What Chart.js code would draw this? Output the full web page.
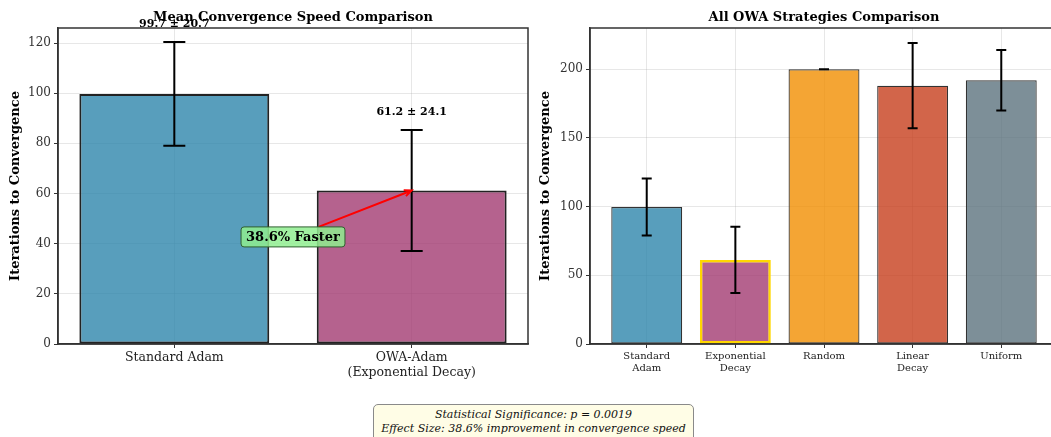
<!DOCTYPE html>
<html>
<head>
<meta charset="utf-8">
<script src="https://cdn.jsdelivr.net/npm/chart.js@4.4.1/dist/chart.umd.min.js"></script>
<style>
html, body { margin: 0; padding: 0; background: #fff; width: 1051px; height: 437px; overflow: hidden; position: relative; }
#left { position: absolute; left: 0; top: 0; }
#right { position: absolute; left: 530px; top: 0; }
#stats {
  position: absolute; left: 373px; top: 404px; width: 321px; height: 40px;
  background: #fffde6; border: 1px solid #8a8a8a; border-radius: 5px;
  font: italic 11px "DejaVu Serif", serif; line-height: 13.5px; text-align: center;
  color: #111; padding-top: 3px; box-sizing: border-box;
}
</style>
</head>
<body>
<canvas id="left" width="530" height="400"></canvas>
<canvas id="right" width="530" height="400"></canvas>
<div id="stats">Statistical Significance: p = 0.0019<br>Effect Size: 38.6% improvement in convergence speed</div>
<script>
// main comparison
const mainLabels = [['Standard Adam'], ['OWA-Adam', '(Exponential Decay)']];
const mainMeans = [99.7, 61.2];
const mainStds = [20.7, 24.1];
const mainColors = ['rgba(46,134,171,0.8)', 'rgba(162,59,114,0.8)'];
// all strategies
const stratLabels = [['Standard', 'Adam'], ['Exponential', 'Decay'], ['Random'], ['Linear', 'Decay'], ['Uniform']];
const stratMeans = [99.7, 61.2, 200, 188, 192];
const stratStds = [20.7, 24.1, 0, 31, 22];
const stratColors = ['rgba(46,134,171,0.8)', 'rgba(162,59,114,0.8)', 'rgba(241,143,1,0.8)', 'rgba(199,62,29,0.8)', 'rgba(93,115,126,0.8)'];
const stratEdges = ['#333', '#FFD700', '#333', '#333', '#333'];
const stratEdgeWidths = [1.2, 2.5, 1.2, 1.2, 1.2];
const improvement = 38.6;

const SERIF = '"DejaVu Serif", serif';
const GRID = 'rgba(160,160,160,0.25)';

//draws title centered on plot area, frame, error bars, value labels
const extrasPlugin = {
  id: 'extras',
  afterDraw(chart, args, opts) {
    const ctx = chart.ctx;
    const a = chart.chartArea;
    const x = chart.scales.x, y = chart.scales.y;
    ctx.save();
    //frame
    ctx.strokeStyle = '#333';
    ctx.lineWidth = 1.5;
    ctx.strokeRect(a.left, a.top, a.right - a.left, a.bottom - a.top);
    //error bars
    ctx.strokeStyle = '#000';
    ctx.lineWidth = 2;
    opts.means.forEach((m, i) => {
      const px = x.getPixelForValue(i);
      const top = y.getPixelForValue(m + opts.stds[i]);
      const bot = y.getPixelForValue(m - opts.stds[i]);
      ctx.beginPath();
      ctx.moveTo(px, top); ctx.lineTo(px, bot);
      ctx.moveTo(px - opts.cap, top); ctx.lineTo(px + opts.cap, top);
      ctx.moveTo(px - opts.cap, bot); ctx.lineTo(px + opts.cap, bot);
      ctx.stroke();
      if (opts.showValues) {
        ctx.fillStyle = '#000';
        ctx.font = 'bold 11px ' + SERIF;
        ctx.textAlign = 'center';
        ctx.textBaseline = 'bottom';
        ctx.fillText(m.toFixed(1) + ' \u00b1 ' + opts.stds[i].toFixed(1), px, y.getPixelForValue(m + opts.stds[i] + 5));
      }
    });
    //title
    ctx.fillStyle = '#000';
    ctx.font = 'bold 13px ' + SERIF;
    ctx.textAlign = 'center';
    ctx.textBaseline = 'middle';
    ctx.fillText(opts.title, (a.left + a.right) / 2, 18);
    ctx.restore();
  }
};

//arrow + green box
const annotationPlugin = {
  id: 'annot',
  afterDraw(chart, args, opts) {
    if (!opts.text) return;
    const ctx = chart.ctx;
    const x = chart.scales.x, y = chart.scales.y;
    const cx = x.getPixelForValue(opts.textAt[0]);
    const cy = y.getPixelForValue(opts.textAt[1]);
    const tx = x.getPixelForValue(opts.target[0]);
    const ty = y.getPixelForValue(opts.target[1]);
    ctx.save();
    ctx.font = 'bold 13px ' + SERIF;
    const w = ctx.measureText(opts.text).width + 10;
    const h = 20;
    //arrow start on box edge
    const dx = tx - cx, dy = ty - cy;
    const t = Math.min((w / 2) / Math.abs(dx), (h / 2) / Math.abs(dy));
    const sx = cx + dx * t, sy = cy + dy * t;
    const ang = Math.atan2(ty - sy, tx - sx);
    ctx.strokeStyle = 'red';
    ctx.lineWidth = 2;
    ctx.beginPath();
    ctx.moveTo(sx, sy);
    ctx.lineTo(tx, ty);
    ctx.moveTo(tx - 8 * Math.cos(ang - 0.4), ty - 8 * Math.sin(ang - 0.4));
    ctx.lineTo(tx, ty);
    ctx.lineTo(tx - 8 * Math.cos(ang + 0.4), ty - 8 * Math.sin(ang + 0.4));
    ctx.stroke();
    //box
    ctx.fillStyle = 'rgba(144,238,144,0.85)';
    ctx.strokeStyle = '#2f5f2f';
    ctx.lineWidth = 1;
    ctx.beginPath();
    ctx.roundRect(cx - w / 2, cy - h / 2, w, h, 3);
    ctx.fill();
    ctx.stroke();
    ctx.fillStyle = '#000';
    ctx.textAlign = 'center';
    ctx.textBaseline = 'middle';
    ctx.fillText(opts.text, cx, cy + 1);
    ctx.restore();
  }
};

function makeChart(id, cfg) {
  const labels = cfg.labels;
  return new Chart(document.getElementById(id), {
    type: 'bar',
    plugins: [extrasPlugin, annotationPlugin],
    data: {
      datasets: [{
        data: cfg.means.map((v, i) => ({ x: i, y: v })),
        backgroundColor: cfg.colors,
        borderColor: cfg.edges,
        borderWidth: cfg.edgeWidths,
        borderSkipped: false,
        barPercentage: 0.8,
        categoryPercentage: 1,
      }],
    },
    options: {
      responsive: false,
      animation: false,
      layout: { padding: { top: 28, right: 2, left: 0, bottom: 0 } },
      plugins: {
        legend: { display: false },
        tooltip: { enabled: false },
        extras: { title: cfg.title, means: cfg.means, stds: cfg.stds, cap: cfg.cap, showValues: cfg.showValues },
        annot: cfg.annot || {},
      },
      scales: {
        x: {
          type: 'linear',
          min: cfg.xmin, max: cfg.xmax,
          offset: false,
          z: 1,
          afterBuildTicks: s => { s.ticks = labels.map((_, i) => ({ value: i })); },
          afterFit: s => { s.height = 56; },
          grid: { offset: false, color: GRID, tickColor: '#333', tickLength: 4 },
          border: { color: '#333', width: 1.5 },
          ticks: {
            autoSkip: false, maxRotation: 0, padding: 2,
            color: '#222',
            font: { family: SERIF, size: cfg.xFont },
            callback: v => labels[v],
          },
        },
        y: {
          min: 0, max: cfg.ymax,
          z: 1,
          afterFit: s => { s.width = cfg.yWidth; },
          grid: { color: GRID, tickColor: '#333', tickLength: 4 },
          border: { color: '#333', width: 1.5 },
          ticks: { stepSize: cfg.step, includeBounds: false, padding: 3, color: '#333', font: { family: SERIF, size: 12 } },
          title: {
            display: true, text: 'Iterations to Convergence', color: '#000',
            font: { family: SERIF, size: 13, weight: 'bold' },
            padding: { top: 8, bottom: 0 },
          },
        },
      },
    },
  });
}

makeChart('left', {
  title: 'Mean Convergence Speed Comparison',
  labels: mainLabels, means: mainMeans, stds: mainStds,
  colors: mainColors, edges: '#222', edgeWidths: 2,
  xmin: -0.49, xmax: 1.49, ymax: 126, step: 20, yWidth: 58, xFont: 12.5,
  cap: 11, showValues: true,
  annot: { text: improvement + '% Faster', textAt: [0.5, 42.7], target: [1, mainMeans[1]] },
});

makeChart('right', {
  title: 'All OWA Strategies Comparison',
  labels: stratLabels, means: stratMeans, stds: stratStds,
  colors: stratColors, edges: stratEdges, edgeWidths: stratEdgeWidths,
  xmin: -0.64, xmax: 4.64, ymax: 230, step: 50, yWidth: 60, xFont: 10,
  cap: 5, showValues: false,
});
</script>
</body>
</html>
